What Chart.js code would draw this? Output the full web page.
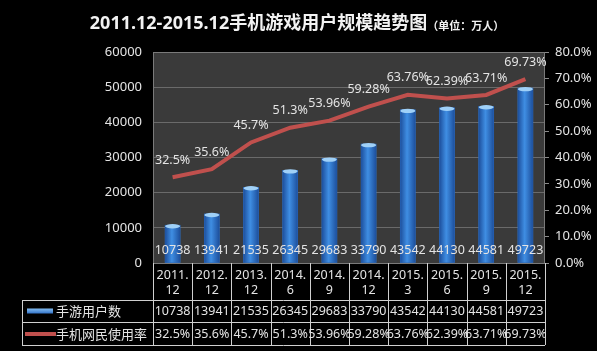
<!DOCTYPE html>
<html>
<head>
<meta charset="utf-8">
<script src="https://cdn.jsdelivr.net/npm/chart.js@4"></script>
<style>
  html, body { margin: 0; padding: 0; background: #000; }
  #wrap { width: 597px; height: 351px; }
</style>
</head>
<body>
<div id="wrap"><canvas id="chartCanvas" width="597" height="351"></canvas></div>
<script>
const categories = [
  ["2011.", "12"], ["2012.", "12"], ["2013.", "12"], ["2014.", "6"], ["2014.", "9"],
  ["2014.", "12"], ["2015.", "3"], ["2015.", "6"], ["2015.", "9"], ["2015.", "12"]
];
const users = [10738, 13941, 21535, 26345, 29683, 33790, 43542, 44130, 44581, 49723];
const rates = [32.5, 35.6, 45.7, 51.3, 53.96, 59.28, 63.76, 62.39, 63.71, 69.73];
const rateLabels = ["32.5%", "35.6%", "45.7%", "51.3%", "53.96%", "59.28%", "63.76%", "62.39%", "63.71%", "69.73%"];
const usersName = "手游用户数";
const ratesName = "手机网民使用率";
const titleMain = "2011.12-2015.12手机游戏用户规模趋势图";
const titleUnit = "（单位：万人）";

const FONT = "'Noto Sans', 'Noto Sans CJK SC', sans-serif";
const CJK = "'Noto Sans CJK SC', sans-serif";
const TXT = "#e4e4e4";

// фон, заголовок, подписи и таблица под графиком
const decor = {
  id: "decor",
  beforeDraw(chart) {
    const c = chart.ctx, a = chart.chartArea;
    c.save();
    c.fillStyle = "#000";
    c.fillRect(0, 0, chart.width, chart.height);
    c.fillStyle = "#3a3a3a";
    c.fillRect(a.left, a.top, a.right - a.left, a.bottom - a.top);
    c.restore();
  },
  afterDatasetDraw(chart, args) {
    if (args.index !== 0) return;
    const c = chart.ctx;
    c.save();
    args.meta.data.forEach((bar) => {
      const w = bar.width, x0 = bar.x - w / 2;
      const g = c.createLinearGradient(x0, 0, x0 + w, 0);
      g.addColorStop(0, "#1d4f9c");
      g.addColorStop(0.45, "#3f8ee3");
      g.addColorStop(1, "#1d4f9c");
      c.fillStyle = g;
      c.fillRect(x0, bar.y, w, bar.base - bar.y);
      c.fillStyle = "#9fd0f7";
      c.beginPath();
      c.ellipse(bar.x, bar.y + 1, w / 2, 2.2, 0, 0, Math.PI * 2);
      c.fill();
    });
    c.restore();
  },
  afterDraw(chart) {
    const c = chart.ctx, a = chart.chartArea;
    const n = categories.length;
    const cw = (a.right - a.left) / n;
    c.save();

    // рамка области графика
    c.strokeStyle = "#7a7a7a";
    c.lineWidth = 1;
    c.strokeRect(a.left + 0.5, a.top + 0.5, a.right - a.left - 1, a.bottom - a.top);

    // подписи значений столбцов
    c.fillStyle = TXT;
    c.font = "12.5px " + FONT;
    c.textAlign = "center";
    c.textBaseline = "middle";
    const barMeta = chart.getDatasetMeta(0);
    barMeta.data.forEach((bar, i) => c.fillText(users[i], bar.x, a.bottom - 13));

    // подписи линии
    const lineMeta = chart.getDatasetMeta(1);
    lineMeta.data.forEach((p, i) => c.fillText(rateLabels[i], p.x, p.y - 17));

    // таблица
    const y0 = a.bottom, y1 = 300, y2 = 322, y3 = 345, xl = 22;
    c.strokeStyle = "#d0d0d0";
    c.beginPath();
    [y1, y2, y3].forEach((y) => { c.moveTo(xl, y + 0.5); c.lineTo(a.right, y + 0.5); });
    c.moveTo(xl + 0.5, y1); c.lineTo(xl + 0.5, y3);
    for (let k = 0; k <= n; k++) {
      const x = Math.round(a.left + cw * k) + 0.5;
      c.moveTo(x, y0); c.lineTo(x, y3);
    }
    c.stroke();

    c.fillStyle = TXT;
    c.font = "12.5px " + FONT;
    for (let i = 0; i < n; i++) {
      const x = a.left + cw * (i + 0.5);
      c.fillText(categories[i][0], x, 275);
      c.fillText(categories[i][1], x, 290);
      c.fillText(users[i], x, 311.5);
      c.fillText(rateLabels[i], x, 334);
    }

    // легенда в таблице
    const lg = c.createLinearGradient(0, 308, 0, 314);
    lg.addColorStop(0, "#8cc4f5");
    lg.addColorStop(1, "#2b6cc4");
    c.fillStyle = lg;
    c.fillRect(27, 308.5, 26, 5);
    c.fillStyle = "#c0504d";
    c.fillRect(25, 332, 31, 4);
    c.fillStyle = TXT;
    c.font = "13px " + CJK;
    c.textAlign = "left";
    c.fillText(usersName, 56, 311.5);
    c.fillText(ratesName, 56, 334);

    // заголовок
    c.fillStyle = "#f2f2f2";
    c.font = "bold 18px " + FONT;
    const wMain = c.measureText(titleMain).width;
    c.font = "bold 11px " + CJK;
    const wUnit = c.measureText(titleUnit).width;
    const tx = 297 - (wMain + wUnit) / 2;
    c.font = "bold 18px " + FONT;
    c.fillText(titleMain, tx, 24);
    c.font = "bold 11px " + CJK;
    c.fillText(titleUnit, tx + wMain, 26);
    c.restore();
  }
};

new Chart(document.getElementById("chartCanvas").getContext("2d"), {
  data: {
    labels: categories.map((l) => l.join("")),
    datasets: [
      {
        type: "bar",
        label: usersName,
        data: users,
        yAxisID: "y",
        backgroundColor: "#2e75cf",
        barThickness: 15,
        order: 1
      },
      {
        type: "line",
        label: ratesName,
        data: rates,
        yAxisID: "y1",
        borderColor: "#c0504d",
        borderWidth: 4,
        pointRadius: 0,
        tension: 0,
        order: 0
      }
    ]
  },
  options: {
    responsive: false,
    animation: false,
    layout: { padding: { top: 52, bottom: 88, left: 0, right: 0 } },
    plugins: { legend: { display: false }, tooltip: { enabled: false } },
    scales: {
      x: { display: false, offset: true },
      y: {
        position: "left",
        min: 0, max: 60000,
        ticks: { stepSize: 10000, color: TXT, font: { size: 13, family: FONT }, padding: 11,
          callback: (v) => String(v) },
        grid: { color: "#6a6a6a", drawTicks: false },
        border: { display: false },
        afterFit: (s) => { s.width = 153; }
      },
      y1: {
        position: "right",
        min: 0, max: 80,
        ticks: { stepSize: 10, color: TXT, font: { size: 13, family: FONT }, padding: 6,
          callback: (v) => v.toFixed(1) + "%" },
        grid: { drawOnChartArea: false, color: "#8a8a8a", tickLength: 4 },
        border: { display: false },
        afterFit: (s) => { s.width = 52; }
      }
    }
  },
  plugins: [decor]
});
</script>
</body>
</html>
